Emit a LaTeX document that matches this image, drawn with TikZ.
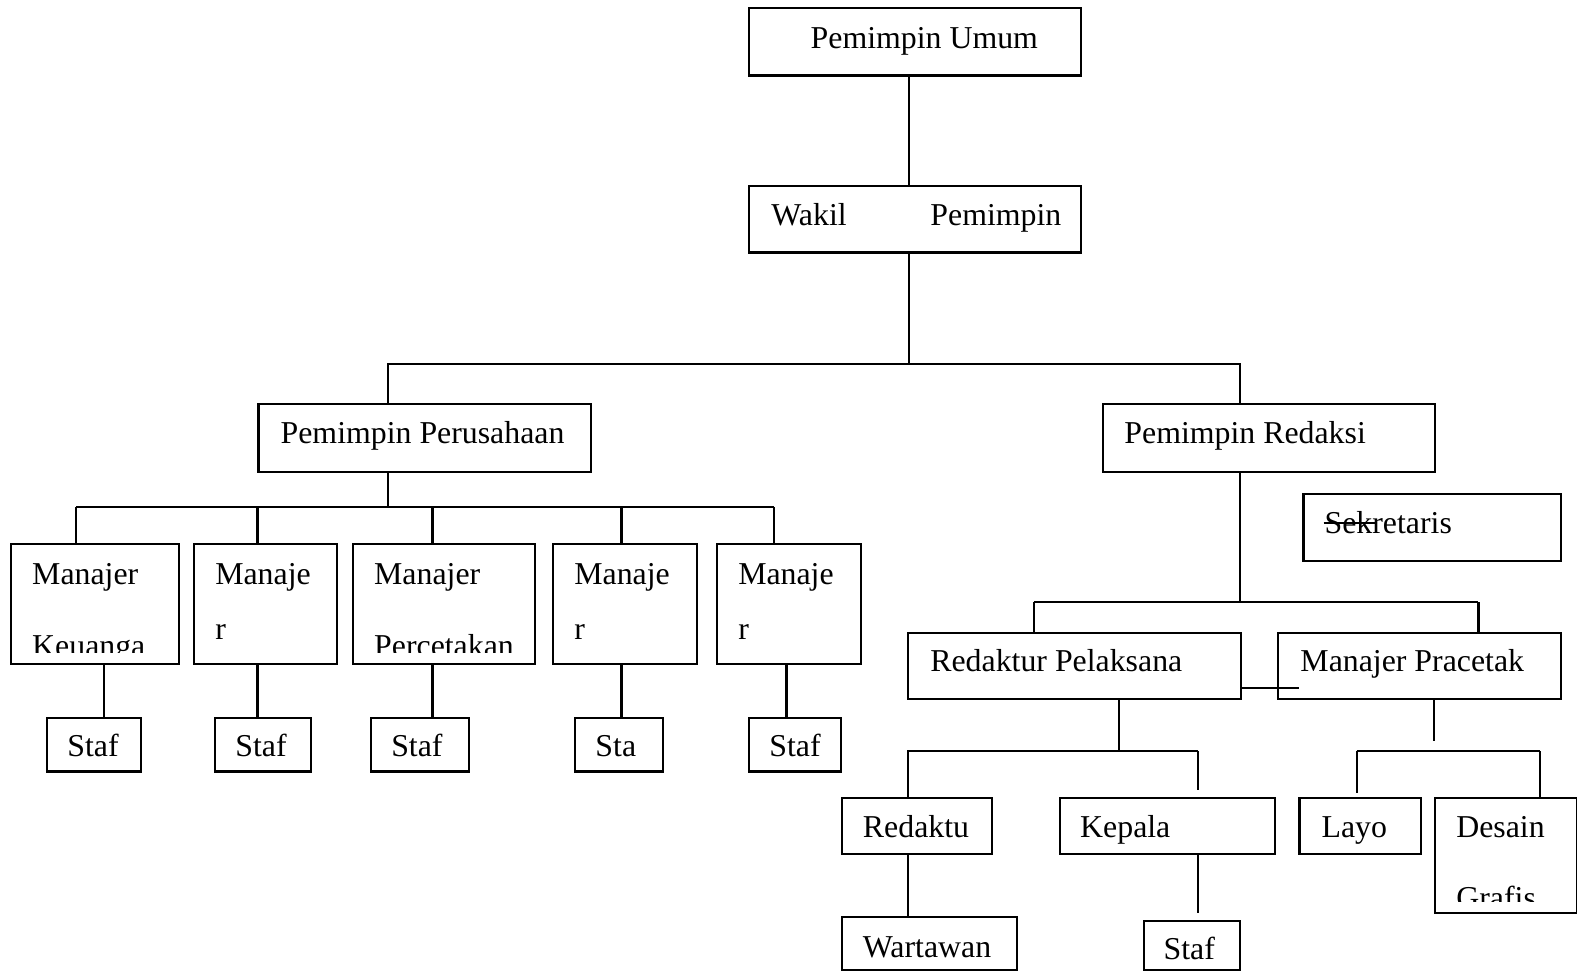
\documentclass[tikz,border=0pt]{standalone}
\usepackage{fontspec}
\setmainfont{Liberation Serif}
\begin{document}
\begin{tikzpicture}[x=0.01cm, y=-0.01cm, line width=0.6pt,
		font=\fontsize{9}{11}\selectfont,
		unit/.style 2 args={draw, anchor=north west, inner sep=0pt,
			minimum width=#1*0.01cm, minimum height=#2*0.01cm},
		lbl/.style={anchor=base west, inner sep=0pt}]
	\useasboundingbox (0,0) rectangle (1568,965);
	\node[unit={330}{67}] (pu) at (744,7) {};
	\node[unit={330}{66}] (wp) at (744,184) {};
	\node[unit={331}{67}] (pp) at (256,401) {};
	\node[unit={330}{67}] (pr) at (1096,401) {};
	\node[unit={256}{67}] (sk) at (1295,490) {};
	\node[unit={331}{66}] (rp) at (902,628) {};
	\node[unit={281}{66}] (mpc) at (1270,628) {};
	\node[unit={149}{56}] (rd) at (836,792) {};
	\node[unit={214}{56}] (kp) at (1053,792) {};
	\node[unit={121}{56}] (ly) at (1291,792) {};
	\node[unit={141}{115}] (dg) at (1426,792) {};
	\node[unit={174}{52}] (ww) at (836,911) {};
	\node[unit={96}{48}] (ks) at (1136,915) {};
	\node[lbl] (pu-t) at (805,48) {Pemimpin Umum};
	\node[lbl] (wp-t) at (766,224) {\makebox[2.88cm][s]{Wakil Pemimpin}};
	\node[lbl] (pp-t) at (278,441) {Pemimpin Perusahaan};
	\node[lbl] (pr-t) at (1117,441) {Pemimpin Redaksi};
	\node[lbl] (sk-t) at (1316,530) {Sekretaris};
	\draw (sk-t.base west) ++(0,-10) -- ++(53,0);
	\node[lbl] (rp-t) at (924,668) {Redaktur Pelaksana};
	\node[lbl] (mpc-t) at (1292,668) {Manajer Pracetak};
	\node[lbl] (rd-t) at (857,833) {Redaktu};
	\node[lbl] (kp-t) at (1073,833) {Kepala};
	\node[lbl] (ly-t) at (1313,833) {Layo};
	\node[lbl] (dg-t) at (1447,833) {Desain};
	\begin{scope}
		\clip (dg.north west) rectangle (1568,896);
		\node[lbl] (dg-u) at (1447,903) {Grafis};
	\end{scope}
	\node[lbl] (ww-t) at (857,952) {Wartawan};
	\node[lbl] (ks-t) at (1156,954) {Staf};
	\coordinate (hub) at (904,362);
	\coordinate (pbus) at (386,504);
	\coordinate (rbus) at (1233,599);
	\coordinate (ebus) at (1113,747);
	\coordinate (cbus) at (1426,747);
	\draw (pu.south -| hub) -- (wp.north -| hub) (wp.south -| hub) -- (hub);
	\draw (pp.north -| pbus) |- (hub) -| (pr.north -| rbus);
	\draw (pp.south -| pbus) -- (pbus) (pbus -| 76,0) -- (pbus -| 770,0);
	\foreach \i/\x/\w/\a/\b/\s/\sw/\one/\two/\yb/\st in {
			1/10/167/76/103/46/93/Manajer/Keuanga/653/Staf,
			2/192/142/256/256/213/95/Manaje/r/636/Staf,
			3/350/181/430/430/368/97/Manajer/Percetakan/653/Staf,
			4/549/143/618/618/571/87/Manaje/r/636/Sta,
			5/712/143/770/782/744/91/Manaje/r/636/Staf}
		{
			\node[unit={\w}{119}] (m\i) at (\x,540) {};
			\node[unit={\sw}{53}] (s\i) at (\s,713) {};
			\node[lbl] (ma\i) at (\x+21,581) {\one};
			\begin{scope}
				\clip (m\i.north west) rectangle (\x+\w,649);
				\node[lbl] (mb\i) at (\x+21,\yb) {\two};
			\end{scope}
			\node[lbl] (st\i) at (\s+20,752) {\st};
			\draw (pbus -| \a,0) -- (m\i.north -| \a,0);
			\draw (m\i.south -| \b,0) -- (s\i.north -| \b,0);
		}
	\draw (pr.south -| rbus) -- (rbus) (rbus -| 1028,0) -- (rbus -| 1470,0);
	\draw (rbus -| 1028,0) -- (rp.north -| 1028,0) (rbus -| 1470,0) -- (mpc.north -| 1470,0);
	\coordinate (stub) at (1292,684);
	\draw (stub -| rp.east) -- (stub);
	\draw (rp.south -| ebus) -- (ebus) (ebus -| 902,0) -- (ebus -| 1191,0);
	\coordinate (kpgap) at (1191,786);
	\draw (ebus -| 903,0) -- (rd.north -| 903,0) (ebus -| kpgap) -- (kpgap);
	\draw (rd.south -| 903,0) -- (ww.north -| 903,0);
	\coordinate (ksgap) at (1191,908);
	\draw (kp.south -| ksgap) -- (ksgap);
	\coordinate (mpgap) at (1426,737);
	\coordinate (lygap) at (1349,788);
	\draw (mpc.south -| mpgap) -- (mpgap) (cbus -| 1349,0) -- (cbus -| 1531,0);
	\draw (cbus -| lygap) -- (lygap) (cbus -| 1531,0) -- (dg.north -| 1531,0);
\end{tikzpicture}
\end{document}
